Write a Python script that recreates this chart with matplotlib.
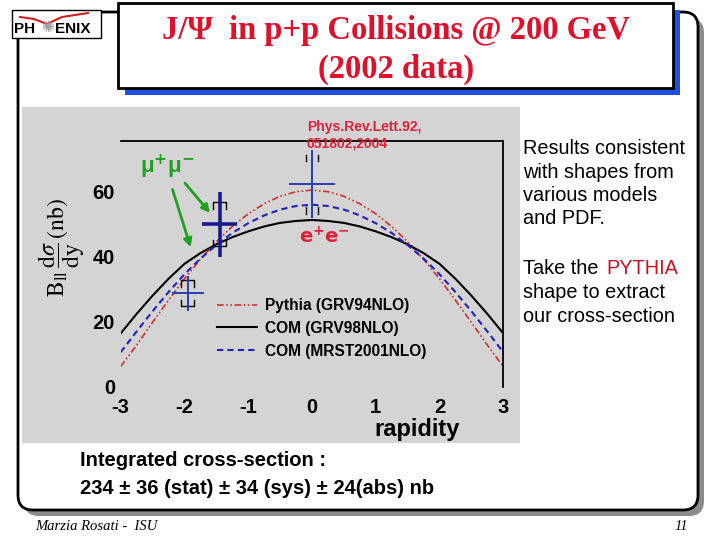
import matplotlib
matplotlib.use("Agg")
import matplotlib.pyplot as plt
from matplotlib.patches import Rectangle, FancyBboxPatch

plt.rcParams["font.family"] = ["Liberation Sans", "DejaVu Sans"]
plt.rcParams["mathtext.fontset"] = "stix"

# J/psi rapidity distribution
rapidity = [-3.0, -2.75, -2.5, -2.25, -2.0, -1.75, -1.5, -1.25, -1.0, -0.75, -0.5, -0.25, 0.0,
            0.25, 0.5, 0.75, 1.0, 1.25, 1.5, 1.75, 2.0, 2.25, 2.5, 2.75, 3.0]
pythia_grv94 = [6.2, 12.8, 19.8, 26.6, 33.2, 39.2, 44.6, 49.3, 53.2, 56.3, 58.6, 60.0, 60.5,
                60.0, 58.6, 56.3, 53.2, 49.3, 44.6, 39.2, 33.2, 26.6, 19.8, 12.8, 6.2]
com_grv98 = [16.4, 22.4, 28.0, 33.2, 37.8, 41.1, 43.8, 46.0, 47.8, 49.3, 50.4, 51.0, 51.3,
             51.0, 50.4, 49.3, 47.8, 46.0, 43.8, 41.1, 37.8, 33.2, 28.0, 22.4, 16.4]
com_mrst2001 = [10.6, 17.0, 23.2, 29.1, 34.6, 39.4, 43.6, 47.3, 50.3, 52.7, 54.5, 55.6, 56.0,
                55.6, 54.5, 52.7, 50.3, 47.3, 43.6, 39.4, 34.6, 29.1, 23.2, 17.0, 10.6]

# measured points: two muon bins and the central electron point
pt_y = [-1.95, -1.45, 0.0]
pt_yerr = [0.25, 0.27, 0.36]
pt_val = [28.7, 50.0, 62.3]
pt_stat = [5.5, 10.0, 10.5]
pt_sys = [4.0, 6.8, 8.5]

fig = plt.figure(figsize=(7.2, 5.4), dpi=100)

# slide decorations in pixel coordinates
bg = fig.add_axes([0, 0, 1, 1])
bg.set_xlim(0, 720); bg.set_ylim(540, 0); bg.axis("off")

bg.add_patch(FancyBboxPatch((24, 18), 680, 498, boxstyle="round,pad=0,rounding_size=15",
                            fc="#8c8c8c", ec="none"))
bg.add_patch(FancyBboxPatch((18, 12), 680, 498, boxstyle="round,pad=0,rounding_size=15",
                            fc="white", ec="black", lw=2))
bg.add_patch(Rectangle((22, 107), 498, 336, fc="#d4d4d4", ec="none"))

# title box
bg.add_patch(Rectangle((125, 10), 555, 85, fc="#2050e0", ec="none"))
bg.add_patch(Rectangle((118, 3), 555, 85, fc="white", ec="black", lw=2))
bg.text(396, 30, "J/\u03a8  in p+p Collisions @ 200 GeV", ha="center", va="center",
        fontsize=23.5, fontweight="bold", color="#e0102a", family="Liberation Serif")
bg.text(396, 69, "(2002 data)", ha="center", va="center",
        fontsize=23.5, fontweight="bold", color="#e0102a", family="Liberation Serif")

# PHENIX logo
bg.add_patch(Rectangle((12, 10), 89, 28, fc="white", ec="black", lw=1))
bg.plot([20, 34, 47, 62, 88], [17, 19, 24, 17, 13], color="#d02020", lw=1.5)
bg.text(14, 29, "PH", ha="left", va="center", fontsize=11, fontweight="bold")
bg.text(47, 28, "\u273a", ha="center", va="center", fontsize=11, color="#a0a0a0",
        family="DejaVu Sans")
bg.text(55, 29, "ENIX", ha="left", va="center", fontsize=11, fontweight="bold")

# right-hand comments
fs_r = 14.3
bg.text(523, 139, "Results consistent\nwith shapes from\nvarious models\nand PDF.",
        ha="left", va="top", fontsize=fs_r, linespacing=1.3)
bg.text(523, 259, "Take the ", ha="left", va="top", fontsize=fs_r)
bg.text(606, 259, "PYTHIA", ha="left", va="top", fontsize=fs_r, color="#d01020")
bg.text(523, 283, "shape to extract\nour cross-section",
        ha="left", va="top", fontsize=fs_r, linespacing=1.3)

bg.text(80, 461, "Integrated cross-section :", ha="left", va="center",
        fontsize=14.5, fontweight="bold")
bg.text(80, 489, "234 \u00b1 36 (stat) \u00b1 34 (sys) \u00b1 24(abs) nb", ha="left", va="center",
        fontsize=14.5, fontweight="bold")

bg.text(35, 527, "Marzia Rosati -  ISU", ha="left", va="center", fontsize=10.5,
        style="italic", family="Liberation Serif")
bg.text(688, 527, "11", ha="right", va="center", fontsize=10.5,
        style="italic", family="Liberation Serif")

# the plot
ax = fig.add_axes([0.1676, 0.2839, 0.5314, 0.4556])
ax.set_facecolor("none")
ax.set_xlim(-3, 3)
ax.set_ylim(0, 75.7)

ax.plot(rapidity, pythia_grv94, color="#d03030", lw=1.2, dashes=(4, 1.5, 1, 1.5, 1, 1.5),
        label="Pythia (GRV94NLO)")
ax.plot(rapidity, com_grv98, color="black", lw=1.5, label="COM (GRV98NLO)")
ax.plot(rapidity, com_mrst2001, color="#2020c0", lw=1.5, dashes=(3, 2),
        label="COM (MRST2001NLO)")

pt_color = ["#2b3db0", "#1a1a8c", "#2b3db0"]
pt_lw = [1.4, 2.6, 1.4]
for i in range(len(pt_y)):
    ax.errorbar(pt_y[i], pt_val[i], xerr=pt_yerr[i], yerr=pt_stat[i], fmt="none",
                ecolor=pt_color[i], elinewidth=pt_lw[i], capsize=0, zorder=5)
    top = pt_val[i] + pt_sys[i]
    bot = pt_val[i] - pt_sys[i]
    hw = 0.1
    if i < 2:
        ax.plot([pt_y[i] - hw, pt_y[i] - hw, pt_y[i] + hw, pt_y[i] + hw],
                [top - 2, top, top, top - 2], color="black", lw=1)
        ax.plot([pt_y[i] - hw, pt_y[i] - hw, pt_y[i] + hw, pt_y[i] + hw],
                [bot + 2, bot, bot, bot + 2], color="black", lw=1)
    else:
        for s in (-hw, hw):
            ax.plot([pt_y[i] + s] * 2, [top - 1.5, top + 0.6], color="black", lw=1)
            ax.plot([pt_y[i] + s] * 2, [bot + 1.5, bot - 0.6], color="black", lw=1)

for side in ("left", "bottom"):
    ax.spines[side].set_visible(False)
for side in ("top", "right"):
    ax.spines[side].set_linewidth(1.3)

ax.set_xticks([-3, -2, -1, 0, 1, 2, 3])
ax.set_xticklabels(["-3", "-2", "-1", "0", "1", "2", "3"])
ax.set_yticks([0, 20, 40, 60])
ax.tick_params(axis="both", length=0, labelsize=14.5)
ax.tick_params(axis="x", pad=8)
ax.tick_params(axis="y", pad=4)
for lab in ax.get_xticklabels() + ax.get_yticklabels():
    lab.set_fontweight("bold")
ax.set_xticks([-2, 0, 2], minor=True)
ax.set_yticks([20, 40], minor=True)
ax.tick_params(axis="x", which="minor", direction="in", length=5, width=1)
ax.tick_params(axis="y", which="minor", direction="in", length=8, width=1)

ax.set_xlabel("rapidity", fontsize=17, fontweight="bold")
ax.xaxis.set_label_coords(0.774, -0.172)
ax.xaxis.label.set_va("center")
ax.set_ylabel(r"$\mathrm{B_{ll}}\,\dfrac{\mathrm{d}\sigma}{\mathrm{dy}}\,\mathrm{(nb)}$",
              fontsize=17)
ax.yaxis.set_label_coords(-0.155, 0.566)
ax.yaxis.label.set_va("center")

ax.legend(loc="upper left", bbox_to_anchor=(0.251, 0.36), frameon=False,
          borderpad=0, borderaxespad=0, handlelength=2.6, handletextpad=0.5,
          labelspacing=0.5, prop={"weight": "bold", "size": 11.2})

ax.text(-2.27, 67.6, "\u03bc$^{\\mathbf{+}}$\u03bc$^{\\mathbf{-}}$", color="#20a020",
        fontsize=16, fontweight="bold", ha="center", va="center",
        math_fontfamily="dejavusans")
ax.annotate("", xy=(-1.89, 42.1), xytext=(-2.2, 61.5),
            arrowprops=dict(arrowstyle="-|>", color="#20a020", lw=2, mutation_scale=12))
ax.annotate("", xy=(-1.57, 52.8), xytext=(-2.02, 63.3),
            arrowprops=dict(arrowstyle="-|>", color="#20a020", lw=2, mutation_scale=12))
ax.text(0.2, 46.2, r"$\mathbf{e^{+}e^{-}}$", color="#e0203a", fontsize=14,
        ha="center", va="center", math_fontfamily="dejavusans")
ax.text(-0.08, 82.2, "Phys.Rev.Lett.92,\n051802,2004", color="#e0203a", fontsize=10,
        fontweight="bold", ha="left", va="top", clip_on=False, linespacing=1.3)

fig.savefig("out.png", dpi=100)
